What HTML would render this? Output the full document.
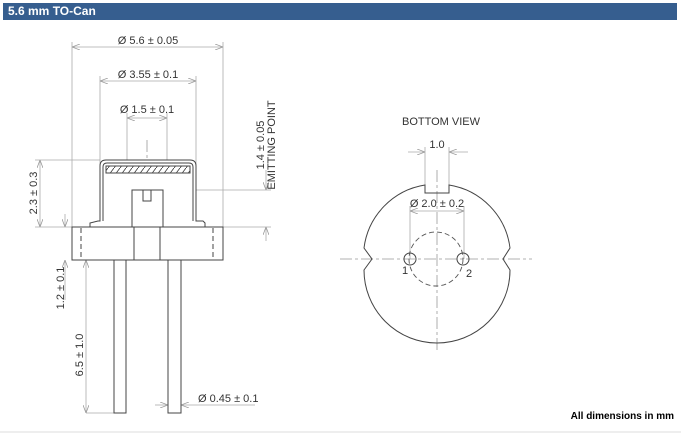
<!DOCTYPE html>
<html><head><style>
body{margin:0;width:681px;height:433px;background:#fff;overflow:hidden;font-family:"Liberation Sans",sans-serif}
.hdr{position:absolute;left:3px;top:3px;width:674px;height:17px;background:#365e8f;color:#fff;font-weight:bold;font-size:12px;line-height:17px;padding-left:5px;box-sizing:border-box}
.foot{position:absolute;right:7px;top:411px;font-size:10px;font-weight:bold;color:#000}
.bl{position:absolute;left:0;top:431px;width:681px;height:2px;background:#eee}
svg{position:absolute;left:0;top:0}
text{font-family:"Liberation Sans",sans-serif;font-size:11px;fill:#333}
</style></head><body>
<div class="hdr">5.6 mm TO-Can</div>
<svg width="681" height="433" viewBox="0 0 681 433">
<defs>
<marker id="a" markerWidth="8" markerHeight="6" refX="8" refY="3" orient="auto-start-reverse" markerUnits="userSpaceOnUse"><path d="M0,0 L8,3 L0,6" fill="none" stroke="#999" stroke-width="0.8"/></marker>
<pattern id="h" width="6" height="8" patternUnits="userSpaceOnUse"><path d="M0,8 L6,0" stroke="#333" stroke-width="0.8"/></pattern>
</defs>
<g stroke="#aaa" stroke-width="0.8" fill="none">
<line x1="72" y1="42" x2="72" y2="227"/><line x1="223" y1="42" x2="223" y2="227"/>
<line x1="100" y1="76" x2="100" y2="165"/><line x1="196" y1="76" x2="196" y2="165"/>
<line x1="127" y1="113" x2="127" y2="165"/><line x1="167" y1="113" x2="167" y2="165"/>
<line x1="35" y1="160" x2="100" y2="160"/><line x1="35" y1="227" x2="72" y2="227"/>
<line x1="150" y1="190" x2="271" y2="190"/><line x1="223" y1="227" x2="271" y2="227"/>
<line x1="86" y1="413" x2="126" y2="413"/>
<line x1="72" y1="47" x2="223" y2="47" marker-start="url(#a)" marker-end="url(#a)"/>
<line x1="100" y1="81" x2="196" y2="81" marker-start="url(#a)" marker-end="url(#a)"/>
<line x1="127" y1="118" x2="167" y2="118" marker-start="url(#a)" marker-end="url(#a)"/>
<line x1="40" y1="160" x2="40" y2="227" marker-start="url(#a)" marker-end="url(#a)"/>
<line x1="65" y1="214" x2="65" y2="227" marker-end="url(#a)"/>
<line x1="65" y1="300" x2="65" y2="260" marker-end="url(#a)"/>
<line x1="86" y1="260" x2="86" y2="413" marker-start="url(#a)" marker-end="url(#a)"/>
<line x1="266" y1="170" x2="266" y2="190" marker-end="url(#a)"/>
<line x1="266" y1="241" x2="266" y2="227" marker-end="url(#a)"/>
<line x1="155" y1="405" x2="168" y2="405" marker-end="url(#a)"/>
<line x1="255" y1="405" x2="181" y2="405" marker-end="url(#a)"/>
<line x1="425" y1="147" x2="425" y2="193"/><line x1="449" y1="147" x2="449" y2="193"/>
<line x1="408" y1="152" x2="425" y2="152" marker-end="url(#a)"/>
<line x1="468" y1="152" x2="449" y2="152" marker-end="url(#a)"/>
<line x1="410" y1="206" x2="410" y2="259"/><line x1="464" y1="206" x2="464" y2="259"/>
<line x1="410" y1="211" x2="464" y2="211" marker-start="url(#a)" marker-end="url(#a)"/>
</g>
<g stroke="#999" stroke-width="0.8" stroke-dasharray="12,3,3,3" fill="none">
<line x1="147" y1="140" x2="147" y2="245"/>
<line x1="340" y1="259" x2="532" y2="259"/>
<line x1="437" y1="170" x2="437" y2="350"/>
</g>
<g stroke="#444" stroke-width="1" fill="#fff">
<path d="M90,227 L90,223 L98,221 L100,221 L100,166 Q100,160 106,160 L190,160 Q196,160 196,166 L196,221 L203,221 L205,223 L205,227"/>
<path d="M103,221 L103,167 Q103,163 107,163 L189,163 Q193,163 193,167 L193,221" fill="none"/>
<rect x="106" y="166" width="84" height="7" fill="url(#h)"/>
<rect x="132" y="190" width="31" height="37"/>
<rect x="143" y="190" width="8" height="11"/>
<rect x="72" y="227" width="151" height="33"/>
<line x1="134" y1="227" x2="134" y2="260"/><line x1="160" y1="227" x2="160" y2="260"/>
<rect x="114" y="260" width="12" height="153"/>
<rect x="168" y="260" width="13" height="153"/>
</g>
<g stroke="#444" stroke-width="1" stroke-dasharray="5,3"><line x1="81" y1="228" x2="81" y2="260"/><line x1="213" y1="228" x2="213" y2="260"/></g>
<g stroke="#444" stroke-width="1" fill="none">
<path d="M425,185 L425,193 L449,193 L449,185 A73,73 0 0 1 510,248 L503,259 L510,270 A73,73 0 0 1 364,270 L372,259 L364,248 A73,73 0 0 1 425,185 Z"/>
<circle cx="410" cy="259" r="6"/><circle cx="463" cy="259" r="6"/>
</g>
<circle cx="436" cy="259" r="27" stroke="#555" stroke-width="0.9" fill="none" stroke-dasharray="5,3"/>
<text x="148" y="44" text-anchor="middle">Ø 5.6 ± 0.05</text>
<text x="148" y="78" text-anchor="middle">Ø 3.55 ± 0.1</text>
<text x="147" y="113" text-anchor="middle">Ø 1.5 ± 0.1</text>
<text transform="translate(37,193) rotate(-90)" text-anchor="middle">2.3 ± 0.3</text>
<text transform="translate(64,288) rotate(-90)" text-anchor="middle">1.2 ± 0.1</text>
<text transform="translate(83,355) rotate(-90)" text-anchor="middle">6.5 ± 1.0</text>
<text transform="translate(264,145) rotate(-90)" text-anchor="middle">1.4 ± 0.05</text>
<text transform="translate(275,145) rotate(-90)" text-anchor="middle">EMITTING POINT</text>
<text x="198" y="402">Ø 0.45 ± 0.1</text>
<text x="441" y="125" text-anchor="middle">BOTTOM VIEW</text>
<text x="437" y="148" text-anchor="middle">1.0</text>
<text x="437" y="207" text-anchor="middle">Ø 2.0 ± 0.2</text>
<text x="402" y="274">1</text>
<text x="466" y="277">2</text>
</svg>
<div class="foot">All dimensions in mm</div>
<div class="bl"></div>
</body></html>
